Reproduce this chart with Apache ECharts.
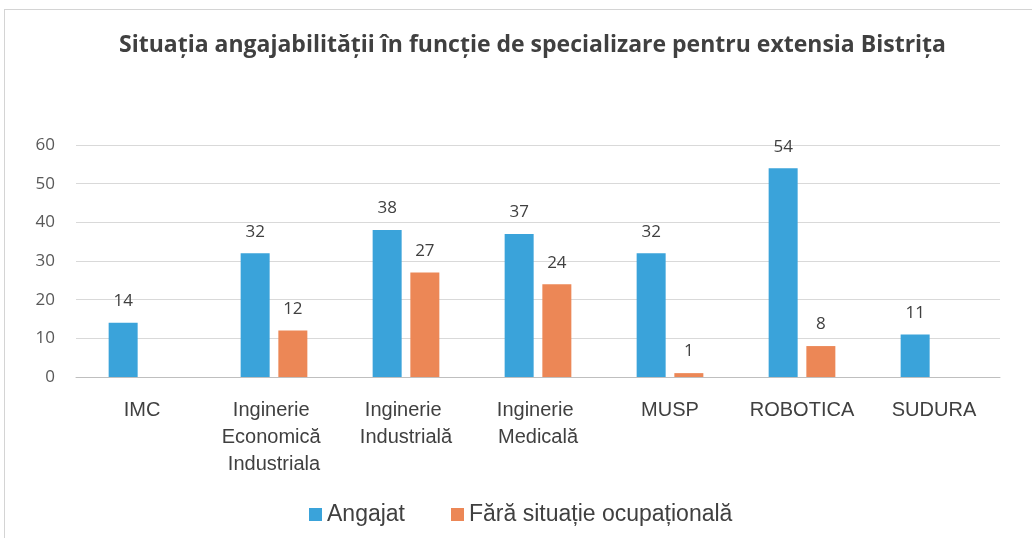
<!DOCTYPE html>
<html>
<head>
<meta charset="utf-8">
<script src="https://cdn.jsdelivr.net/npm/echarts@6/dist/echarts.min.js"></script>
<style>
  html, body { margin: 0; padding: 0; background: #fff; overflow: hidden; }
  #main { width: 1032px; height: 538px; }
  #frame { position: absolute; left: 4px; top: 9px; width: 1040px; height: 540px; border-left: 1px solid #d4d4d4; border-top: 1px solid #d4d4d4; pointer-events: none; }
</style>
</head>
<body>
<div id="main"></div>
<div id="frame"></div>
<script>
// date
var categories = ['IMC', 'Inginerie Economică Industriala', 'Inginerie Industrială', 'Inginerie Medicală', 'MUSP', 'ROBOTICA', 'SUDURA'];
var angajat = [14, 32, 38, 37, 32, 54, 11];
var faraSituatie = [null, 12, 27, 24, 1, 8, null];
var yTicks = [0, 60, 10];   // min, max, pas

var chart = echarts.init(document.getElementById('main'));

var labelStyle = {
  show: true,
  position: 'top',
  distance: 13,
  color: '#404040',
  fontSize: 17,
  fontFamily: 'Open Sans'
};

var option = {
  animation: false,
  title: {
    text: 'Situația angajabilității în funcție de specializare pentru extensia Bistrița',
    left: 114,
    top: 29,
    textStyle: { fontFamily: 'Open Sans', fontWeight: 'bold', fontSize: 23, color: '#404040' }
  },
  legend: {
    data: ['Angajat', 'Fără situație ocupațională'],
    top: 498,
    left: 304,
    itemWidth: 13,
    itemHeight: 13,
    itemGap: 46,
    icon: 'rect',
    textStyle: { fontFamily: 'Liberation Sans', fontSize: 23, color: '#404040' }
  },
  grid: { left: 76, right: 32, top: 145, bottom: 161 },
  xAxis: {
    type: 'category',
    data: categories,
    axisTick: { show: false },
    axisLine: { lineStyle: { color: '#bfbfbf' } },
    axisLabel: {
      interval: 0,
      margin: 20,
      width: 126,
      overflow: 'break',
      lineHeight: 27,
      fontFamily: 'Liberation Sans',
      fontSize: 20,
      color: '#404040'
    }
  },
  yAxis: {
    type: 'value',
    min: yTicks[0],
    max: yTicks[1],
    interval: yTicks[2],
    axisLine: { show: false },
    axisTick: { show: false },
    splitLine: { lineStyle: { color: '#d9d9d9' } },
    axisLabel: { margin: 21, fontFamily: 'Open Sans', fontSize: 17, color: '#595959' }
  },
  series: [
    {
      name: 'Angajat',
      type: 'bar',
      data: angajat,
      barWidth: 29,
      barGap: '30%',
      itemStyle: { color: '#3aa3da' },
      label: labelStyle
    },
    {
      name: 'Fără situație ocupațională',
      type: 'bar',
      data: faraSituatie,
      barWidth: 29,
      itemStyle: { color: '#ec8756' },
      label: labelStyle
    }
  ]
};

chart.setOption(option);
</script>
</body>
</html>
